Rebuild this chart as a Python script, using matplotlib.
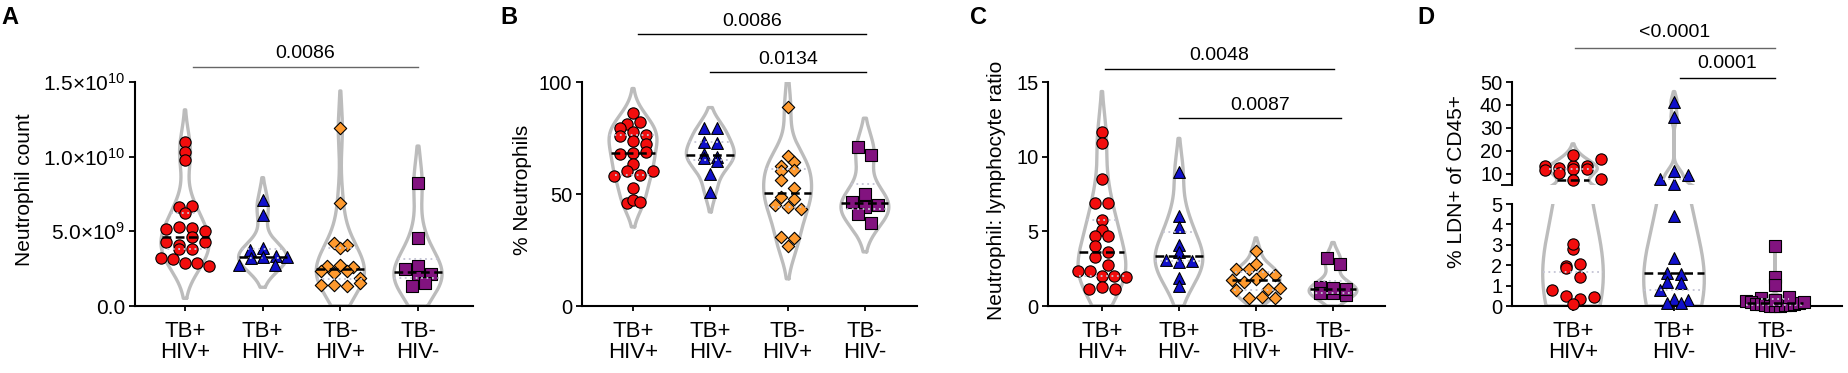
import numpy as np
import matplotlib
matplotlib.use('Agg')
import matplotlib.pyplot as plt
from matplotlib.transforms import blended_transform_factory

plt.rcParams['font.family'] = ['Liberation Sans', 'DejaVu Sans']
plt.rcParams['mathtext.default'] = 'regular'

W, H = 1849, 373

groups4 = ['TB+\nHIV+', 'TB+\nHIV-', 'TB-\nHIV+', 'TB-\nHIV-']
groups3 = ['TB+\nHIV+', 'TB+\nHIV-', 'TB-\nHIV-']

# A: neutrophil count (x1e9)
a_tbp_hivp = [11.0, 10.3, 9.8, 6.65, 6.7, 6.25, 5.15, 5.3, 5.2, 5.0, 4.3,
              4.1, 4.65, 4.3, 3.85, 3.8, 3.2, 3.15, 2.9, 2.9, 2.65]
a_tbp_hivn = [7.1, 6.1, 3.75, 3.86, 3.35, 2.75, 3.19, 3.26, 2.75, 3.26]
a_tbn_hivp = [11.9, 6.92, 4.24, 4.08, 3.86, 2.68, 2.75, 2.59, 2.37, 2.23,
              2.37, 1.9, 1.41, 1.41, 1.34, 1.52]
a_tbn_hivn = [8.26, 4.53, 2.68, 2.46, 1.96, 1.34, 2.14, 1.52]

# B: % neutrophils
b_tbp_hivp = [86.3, 81.1, 82.3, 79.3, 77.8, 75.9, 76.3, 73.8, 72.3, 67.9, 68.2,
              68.9, 63.4, 58.0, 60.4, 58.5, 60.3, 52.5, 46.1, 47.3, 46.6]
b_tbp_hivn = [79.3, 79.6, 73.4, 72.6, 67.9, 65.9, 66.7, 64.9, 58.9, 51.0]
b_tbn_hivp = [89.0, 67.1, 62.6, 64.1, 60.4, 60.7, 56.3, 52.5, 48.5, 47.6,
              45.1, 44.3, 43.2, 30.7, 30.2, 26.9]
b_tbn_hivn = [70.8, 67.4, 46.6, 44.0, 50.0, 45.1, 41.1, 37.2]

# C: neutrophil : lymphocyte ratio
c_tbp_hivp = [11.67, 10.89, 8.5, 6.88, 6.88, 5.76, 5.09, 4.71, 4.71, 4.02, 3.62,
              3.3, 2.75, 2.37, 2.37, 2.03, 2.03, 1.92, 1.14, 1.29, 1.14]
c_tbp_hivn = [8.95, 6.05, 5.27, 4.08, 3.59, 3.08, 2.97, 3.01, 1.9, 1.34]
c_tbn_hivp = [3.7, 2.46, 2.46, 2.81, 2.14, 2.08, 1.74, 1.63, 1.79, 1.12,
              1.07, 1.18, 0.51, 0.58, 0.51]
c_tbn_hivn = [3.24, 2.79, 1.29, 0.89, 0.89, 1.18, 0.74, 1.12]

# D: % LDN+ of CD45+
d_tbp_hivp = [13.3, 12.3, 13.3, 11.55, 13.3, 16.4, 18.1, 10.1, 12.0, 12.0, 7.6, 7.2,
              2.79, 3.04, 1.98, 2.06, 1.85, 1.44, 0.78, 0.49, 0.34, 0.43, 0.08]
d_tbp_hivn = [41.4, 34.6, 7.6, 11.1, 5.3, 9.4,
              4.41, 2.37, 1.6, 1.57, 1.19, 1.14, 0.78, 0.34, 0.29, 0.13, 0.13]
d_tbn_hivn = [2.94, 1.44, 1.03, 0.38, 0.25, 0.2, 0.12, 0.08, 0.05, 0.02, 0.0,
              0.0, 0.03, 0.06, 0.1, 0.15, 0.22, 0.3, 0.45]

pvals_a = [(0, 3, '0.0086')]
pvals_b = [(0, 3, '0.0086'), (1, 3, '0.0134')]
pvals_c = [(0, 3, '0.0048'), (1, 3, '0.0087')]
pvals_d = [(0, 2, '<0.0001'), (1, 2, '0.0001')]

colors = ['#f20d0d', '#1010cc', '#ff9a2e', '#82137f']
markers = ['o', '^', 'D', 's']
msizes = [66, 72, 40, 66]
gray = '#bcbcbc'


def rect(l, r, t, b):
    return [l / W, 1 - b / H, (r - l) / W, (b - t) / H]


def kde(vals, grid, bw):
    v = np.asarray(vals)[:, None]
    return np.exp(-0.5 * ((grid[None, :] - v) / bw) ** 2).sum(0)


def swarm_rows(ypix, rowh, sp0, maxw):
    # points grouped in horizontal rows, spread around the centre
    rows = np.round(np.asarray(ypix) / rowh).astype(int)
    off = np.zeros(len(ypix))
    for r in np.unique(rows):
        idx = np.where(rows == r)[0]
        n = len(idx)
        sp = sp0 if n < 2 else min(sp0, maxw / (n - 1))
        off[idx] = (np.arange(n) - (n - 1) / 2) * sp
    return off


def violin_shape(vals, bw, hw, cut):
    vals = np.asarray(vals, float)
    lo = max(vals.min() - cut * bw, 0.0)
    hi = vals.max() + cut * bw
    grid = np.linspace(lo, hi, 500)
    w = kde(vals, grid, bw)
    w = w / w.max() * hw
    return grid, w


def draw_violin(ax, pos, grid, w, vals):
    xs = np.r_[pos + w, (pos - w)[::-1], pos + w[0]]
    ys = np.r_[grid, grid[::-1], grid[0]]
    ax.plot(xs, ys, color=gray, lw=2.4, zorder=1, solid_joinstyle='round',
            solid_capstyle='round')
    q1, med, q3 = np.percentile(vals, [25, 50, 75])
    for q in (q1, q3):
        wq = np.interp(q, grid, w)
        ax.plot([pos - wq, pos + wq], [q, q], color='#c4c4d4', lw=1.3,
                ls=(0, (1, 2)), zorder=4)
    wm = np.interp(med, grid, w)
    ax.plot([pos - wm, pos + wm], [med, med], color='black', lw=1.8,
            ls=(0, (3.5, 1.8)), zorder=4)


def sig(fig, ax, x0, x1, yline, ytext, text, color):
    tr = blended_transform_factory(ax.transData, fig.transFigure)
    ax.plot([x0, x1], [1 - yline / H] * 2, transform=tr, color=color, lw=1.0,
            clip_on=False)
    ax.text((x0 + x1) / 2, 1 - ytext / H, text, transform=tr, ha='center',
            va='center', fontsize=14)


def style_axes(ax, xlim, labels):
    for s in ('top', 'right'):
        ax.spines[s].set_visible(False)
    for s in ('left', 'bottom'):
        ax.spines[s].set_linewidth(1.5)
    ax.set_xlim(*xlim)
    ax.set_xticks(range(len(labels)))
    ax.set_xticklabels(labels, fontsize=16, linespacing=1.05)
    ax.tick_params(axis='x', length=3.5, width=1.3, pad=7)
    ax.tick_params(axis='y', length=4, width=1.3, labelsize=14.5, pad=3)


def panel(fig, pos, data, xlim, ylim, yticks, yticklabels, scale=1.0):
    ax = fig.add_axes(pos)
    style_axes(ax, xlim, groups4)
    ax.set_ylim(*ylim)
    ax.set_yticks(yticks)
    ax.set_yticklabels(yticklabels)
    ax_h = pos[3] * H
    ax_w = pos[2] * W
    ppy = ax_h / (ylim[1] - ylim[0])
    ppx = ax_w / (xlim[1] - xlim[0])
    for i, vals in enumerate(data):
        v = np.asarray(vals, float) * scale
        sd = v.std(ddof=1)
        bw = 0.95 * sd * len(v) ** -0.2
        grid, w = violin_shape(v, bw, 0.31, 1.7)
        draw_violin(ax, i, grid, w, v)
        off = swarm_rows(v * ppy, 11.0, 13.0, 48) / ppx
        ax.scatter(i + off, v, s=msizes[i], marker=markers[i], c=colors[i],
                   edgecolors='black', linewidths=0.8, zorder=3, clip_on=False)
    return ax


fig = plt.figure(figsize=(W / 100, H / 100), dpi=100)

# ---- A ----
axA = panel(fig, rect(135, 473, 82, 306),
            [a_tbp_hivp, a_tbp_hivn, a_tbn_hivp, a_tbn_hivn],
            (-0.644, 3.708), (0, 1.5e10), [0, 5e9, 1e10, 1.5e10],
            ['0.0', r'$\mathregular{5.0×10^{9}}$', r'$\mathregular{1.0×10^{10}}$',
             r'$\mathregular{1.5×10^{10}}$'], scale=1e9)
axA.tick_params(axis='y', labelsize=15)
fig.text(25 / W, 1 - 190 / H, 'Neutrophil count', rotation=90, ha='center',
         va='center', fontsize=15)
sig(fig, axA, 0.1, 3.0, 66.7, 53, pvals_a[0][2], '#666666')

# ---- B ----
axB = panel(fig, rect(582, 917, 82, 306),
            [b_tbp_hivp, b_tbp_hivn, b_tbn_hivp, b_tbn_hivn],
            (-0.66, 3.674), (0, 100), [0, 50, 100], ['0', '50', '100'])
fig.text(522 / W, 1 - 190 / H, '% Neutrophils', rotation=90, ha='center',
         va='center', fontsize=15)
sig(fig, axB, 0.06, 3.02, 34, 21.7, pvals_b[0][2], 'black')
sig(fig, axB, 1.0, 3.02, 71.7, 60, pvals_b[1][2], 'black')

# ---- C ----
axC = panel(fig, rect(1048, 1385, 82, 306),
            [c_tbp_hivp, c_tbp_hivn, c_tbn_hivp, c_tbn_hivn],
            (-0.70, 3.675), (0, 15), [0, 5, 10, 15], ['0', '5', '10', '15'])
fig.text(997 / W, 1 - 190 / H, 'Neutrophil: lymphocyte ratio', rotation=90,
         ha='center', va='center', fontsize=15)
sig(fig, axC, 0.04, 3.01, 69.3, 56, pvals_c[0][2], 'black')
sig(fig, axC, 1.0, 3.1, 117.7, 105, pvals_c[1][2], 'black')

# ---- D (broken y axis) ----
xlimD = (-0.604, 2.663)
axDl = fig.add_axes(rect(1512, 1842, 204, 306))
axDu = fig.add_axes(rect(1512, 1842, 82, 185))
style_axes(axDl, xlimD, groups3)
axDl.set_ylim(0, 5)
axDl.set_yticks([0, 1, 2, 3, 4, 5])
axDu.set_xlim(*xlimD)
axDu.set_ylim(5, 50)
axDu.set_yticks([10, 20, 30, 40, 50])
axDu.set_yticks([5], minor=True)
axDu.tick_params(axis='y', which='major', length=4, width=1.3, labelsize=14.5, pad=3)
axDu.tick_params(axis='y', which='minor', length=8, width=1.3)
axDu.set_xticks([])
for s in ('top', 'right', 'bottom'):
    axDu.spines[s].set_visible(False)
axDu.spines['left'].set_linewidth(1.5)
for a in (axDl, axDu):
    a.patch.set_alpha(0)


def ypix_d(v):
    v = np.asarray(v, float)
    return np.where(v <= 5, v * 20.4, 102 + 19 + (v - 5) * 2.289)


ppxD = 330 / (xlimD[1] - xlimD[0])
d_data = [d_tbp_hivp, d_tbp_hivn, d_tbn_hivn]
d_style = [0, 1, 3]
for i, vals in enumerate(d_data):
    v = np.asarray(vals, float)
    q1, q3 = np.percentile(v, [25, 75])
    sd = v.std(ddof=1)
    bw = 0.9 * min(sd, (q3 - q1) / 1.34) * len(v) ** -0.2
    grid, w = violin_shape(v, bw, 0.30, 1.7)
    off = swarm_rows(ypix_d(v), 11.0, 14.0, 58) / ppxD
    k = d_style[i]
    for a, mask in ((axDl, v <= 5), (axDu, v > 5)):
        draw_violin(a, i, grid, w, v)
        a.scatter(i + off[mask], v[mask], s=msizes[k], marker=markers[k],
                  c=colors[k], edgecolors='black', linewidths=0.8, zorder=3,
                  clip_on=False)
fig.text(1456 / W, 1 - 182 / H, '% LDN+ of CD45+', rotation=90, ha='center',
         va='center', fontsize=15)
sig(fig, axDl, 0.02, 2.0, 47.7, 32.3, pvals_d[0][2], '#666666')
sig(fig, axDl, 1.06, 2.0, 77.7, 64, pvals_d[1][2], 'black')

# panel letters
for x, lab in ((1, 'A'), (500, 'B'), (970, 'C'), (1417, 'D')):
    fig.text(x / W, 1 - 6 / H, lab, ha='left', va='top', fontsize=17,
             fontweight='bold')

fig.savefig('out.png', dpi=100)
